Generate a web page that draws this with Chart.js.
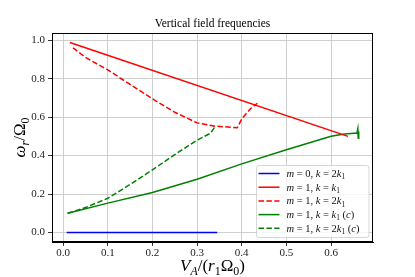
<!DOCTYPE html>
<html><head><meta charset="utf-8">
<script src="https://cdn.jsdelivr.net/npm/chart.js@4/dist/chart.umd.min.js"></script>
<style>html,body{margin:0;padding:0;background:#fff}#wrap{width:415px;height:277px}</style>
</head><body><div id="wrap"><canvas id="c" width="415" height="277"></canvas></div>
<script>
const titleText = "Vertical field frequencies";
const xAxisTitle = "V_A/(r_1Ω_0)";
const yAxisTitle = "ω_r/Ω_0";
const xTicks = [0, 0.1, 0.2, 0.3, 0.4, 0.5, 0.6];
const yTicks = [0, 0.2, 0.4, 0.6, 0.8, 1.0];
const labels = ["m = 0, k = 2k_1", "m = 1, k = k_1", "m = 1, k = 2k_1", "m = 1, k = k_1 (c)", "m = 1, k = 2k_1 (c)"];

const blueX = [0.008, 0.1, 0.2, 0.3, 0.345];
const blueY = [0, 0, 0, 0, 0];
const redSolidX = [0.015, 0.638];
const redSolidY = [0.988, 0.500];
const redDashX = [0.022, 0.05, 0.1, 0.15, 0.2, 0.25, 0.3, 0.34, 0.39, 0.40, 0.42, 0.435];
const redDashY = [0.96, 0.91, 0.845, 0.77, 0.695, 0.625, 0.57, 0.553, 0.545, 0.59, 0.645, 0.672];
const greenSolidX = [0.01, 0.1, 0.2, 0.3, 0.4, 0.5, 0.6, 0.63, 0.658, 0.66, 0.661, 0.662];
const greenSolidY = [0.1, 0.153, 0.208, 0.277, 0.357, 0.43, 0.5, 0.512, 0.517, 0.54, 0.49, 0.525];
const greenDashX = [0.01, 0.05, 0.1, 0.15, 0.2, 0.25, 0.3, 0.33, 0.34];
const greenDashY = [0.1, 0.13, 0.178, 0.25, 0.326, 0.405, 0.48, 0.516, 0.55];

function pts(xs, ys){ return xs.map((x,i)=>({x:x, y:ys[i]})); }

const FONT = "'Liberation Serif', 'DejaVu Serif', serif";

function tokens(str){
  const out=[];
  for(let i=0;i<str.length;i++){
    let ch=str[i], sub=false;
    if(ch==='_' && i+1<str.length){ sub=true; ch=str[++i]; }
    const ital=/[a-zA-Zω]/.test(ch);
    out.push({ch, sub, ital});
  }
  return out;
}
function fontFor(t,size){ const s=t.sub?size*0.7:size; return (t.ital?'italic ':'')+s+'px '+FONT; }
function richWidth(ctx,str,size){ let w=0; for(const t of tokens(str)){ ctx.font=fontFor(t,size); w+=ctx.measureText(t.ch).width; } return w; }
function drawRich(ctx,str,x,y,size,align){
  const w=richWidth(ctx,str,size);
  let cx = align==='center'? x-w/2 : x;
  ctx.textBaseline='alphabetic'; ctx.textAlign='left';
  for(const t of tokens(str)){
    ctx.font=fontFor(t,size);
    ctx.fillText(t.ch,cx,y+(t.sub?size*0.22:0));
    cx+=ctx.measureText(t.ch).width;
  }
}

const decor = {
  id:'decor',
  afterDraw(chart){
    const ctx=chart.ctx, a=chart.chartArea;
    ctx.save();
    ctx.strokeStyle='#000'; ctx.lineWidth=1;
    ctx.strokeRect(a.left+0.5,a.top+0.5,a.right-a.left-1,a.bottom-a.top-1);
    ctx.fillStyle='#000';
    ctx.font='11.5px '+FONT; ctx.textAlign='center'; ctx.textBaseline='alphabetic';
    ctx.fillText(titleText,(a.left+a.right)/2,27);
    drawRich(ctx,xAxisTitle,(a.left+a.right)/2,271,17,'center');
    ctx.save(); ctx.translate(25,(a.top+a.bottom)/2); ctx.rotate(-Math.PI/2);
    drawRich(ctx,yAxisTitle,0,0,17,'center'); ctx.restore();
    // legend
    const bx=256, by=165, bw=112.5, bh=72, r=2.5;
    ctx.globalAlpha=0.8; ctx.fillStyle='#fff'; ctx.strokeStyle='#cccccc';
    ctx.beginPath(); ctx.roundRect(bx+0.5,by+0.5,bw,bh,r); ctx.fill(); ctx.stroke();
    ctx.globalAlpha=1;
    chart.data.datasets.forEach((ds,i)=>{
      const yy=by+8.5+i*13.7;
      ctx.strokeStyle=ds.borderColor; ctx.lineWidth=ds.borderWidth;
      ctx.setLineDash(ds.borderDash||[]);
      ctx.beginPath(); ctx.moveTo(bx+2.5,yy); ctx.lineTo(bx+23.5,yy); ctx.stroke();
      ctx.setLineDash([]);
      ctx.fillStyle='#111';
      drawRich(ctx,ds.label,bx+30.5,yy+3.5,10.5,'left');
    });
    ctx.restore();
  }
};

const mk=(label,xs,ys,color,dash)=>({label,data:pts(xs,ys),borderColor:color,backgroundColor:color,borderWidth:1.5,borderDash:dash,pointRadius:0,fill:false,tension:0});

new Chart(document.getElementById('c'),{
  type:'line',
  data:{datasets:[
    mk(labels[0],blueX,blueY,'#0000ff',[]),
    mk(labels[1],redSolidX,redSolidY,'#ff0000',[]),
    mk(labels[2],redDashX,redDashY,'#ff0000',[5.5,2.4]),
    mk(labels[3],greenSolidX,greenSolidY,'#008000',[]),
    mk(labels[4],greenDashX,greenDashY,'#008000',[5.5,2.4])
  ]},
  options:{
    responsive:false, animation:false,
    layout:{padding:{top:33,right:42,left:0,bottom:0}},
    plugins:{legend:{display:false},title:{display:false},tooltip:{enabled:false}},
    scales:{
      x:{type:'linear',min:-0.025,max:0.694,
        afterBuildTicks(s){ s.ticks=xTicks.map(v=>({value:v})); },
        afterFit(s){ s.height=35; },
        ticks:{callback:v=>v.toFixed(1),color:'#222',font:{family:FONT,size:11},padding:1,maxRotation:0},
        grid:{color:'#cfcfcf',lineWidth:1,tickColor:'#333',tickLength:4},
        border:{display:true,color:'#000'}},
      y:{type:'linear',min:-0.049,max:1.037,
        afterBuildTicks(s){ s.ticks=yTicks.map(v=>({value:v})); },
        afterFit(s){ s.width=52; },
        ticks:{callback:v=>v.toFixed(1),color:'#222',font:{family:FONT,size:11},padding:3},
        grid:{color:'#cfcfcf',lineWidth:1,tickColor:'#333',tickLength:4},
        border:{display:true,color:'#000'}}
    }
  },
  plugins:[decor]
});
</script></body></html>
